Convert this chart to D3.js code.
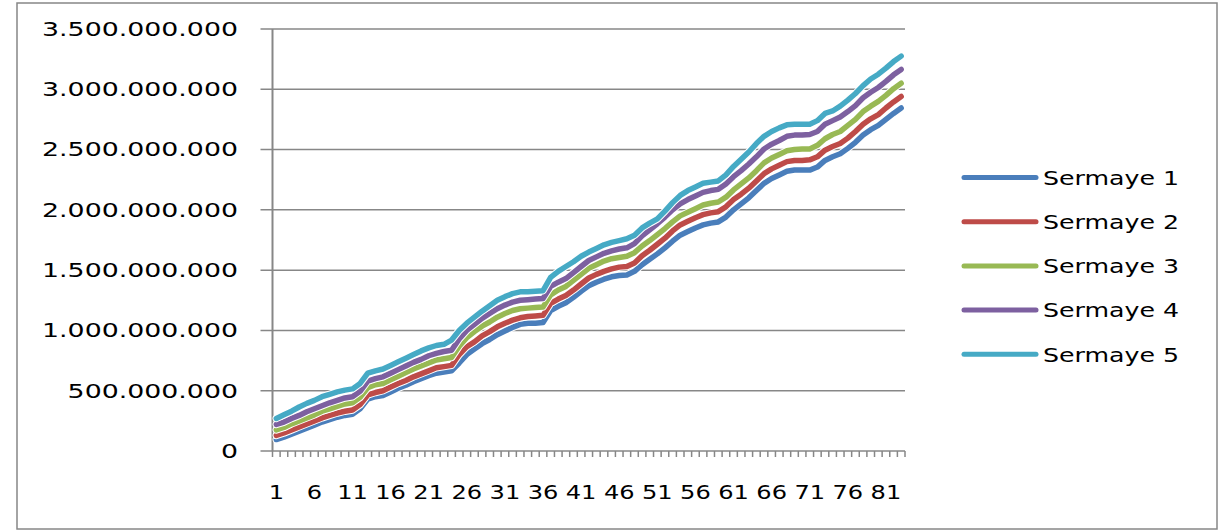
<!DOCTYPE html>
<html>
<head>
<meta charset="utf-8">
<script src="https://cdn.jsdelivr.net/npm/d3@7"></script>
<style>
  body { margin: 0; background: #fff; }
  svg text { font-family: "DejaVu Sans", Verdana, sans-serif; fill: #000; }
</style>
</head>
<body>
<svg id="chart" width="1227" height="531"></svg>
<script>
// Periods 1..83
const categories = [
  1,2,3,4,5,6,7,8,9,10,11,12,13,14,15,16,17,18,19,20,
  21,22,23,24,25,26,27,28,29,30,31,32,33,34,35,36,37,38,39,40,
  41,42,43,44,45,46,47,48,49,50,51,52,53,54,55,56,57,58,59,60,
  61,62,63,64,65,66,67,68,69,70,71,72,73,74,75,76,77,78,79,80,
  81,82,83
];

const seriesNames = ["Sermaye 1", "Sermaye 2", "Sermaye 3", "Sermaye 4", "Sermaye 5"];

// Capital values, in millions
const sermaye1 = [
  95,115,140,165,190,215,240,260,280,295,
  305,350,430,450,460,490,520,545,575,600,
  625,645,655,665,730,800,845,890,925,965,
  995,1025,1050,1060,1060,1065,1165,1200,1230,1275,
  1325,1370,1400,1425,1445,1455,1460,1490,1545,1590,
  1635,1685,1740,1790,1820,1850,1875,1890,1900,1940,
  2000,2050,2100,2160,2220,2260,2290,2320,2330,2330,
  2330,2355,2410,2440,2465,2510,2560,2620,2665,2700,
  2750,2800,2845
];
const sermaye2 = [
  130,150,175,200,225,250,275,295,315,330,
  340,385,465,485,500,530,560,585,615,640,
  665,690,700,710,800,865,905,955,990,1030,
  1060,1085,1105,1115,1120,1125,1225,1260,1290,1335,
  1385,1435,1465,1490,1510,1525,1530,1560,1620,1665,
  1715,1765,1825,1875,1905,1935,1960,1975,1985,2025,
  2085,2130,2180,2240,2300,2340,2370,2400,2410,2410,
  2415,2440,2495,2525,2550,2595,2650,2710,2755,2790,
  2845,2895,2940
];
const sermaye3 = [
  175,195,225,250,275,300,330,350,370,390,
  400,445,525,550,560,590,620,650,680,705,
  730,755,765,775,870,940,990,1035,1070,1110,
  1140,1165,1180,1185,1190,1195,1295,1335,1365,1415,
  1465,1515,1545,1575,1595,1605,1615,1645,1700,1745,
  1795,1845,1900,1950,1980,2010,2040,2055,2065,2105,
  2165,2215,2265,2325,2390,2430,2460,2490,2500,2505,
  2505,2535,2590,2625,2650,2700,2750,2815,2860,2900,
  2950,3005,3050
];
const sermaye4 = [
  220,240,270,295,325,350,375,400,420,440,
  450,495,580,600,615,645,675,705,735,760,
  790,810,825,835,930,1000,1050,1100,1140,1180,
  1210,1235,1250,1255,1260,1265,1365,1400,1430,1480,
  1530,1580,1610,1640,1660,1675,1685,1720,1785,1835,
  1885,1940,2000,2050,2085,2115,2145,2160,2170,2215,
  2275,2325,2380,2440,2505,2545,2575,2610,2620,2620,
  2625,2650,2710,2740,2770,2815,2865,2930,2975,3015,
  3065,3120,3165
];
const sermaye5 = [
  270,300,330,365,395,420,450,470,490,505,
  515,560,645,665,680,710,740,770,800,830,
  855,875,885,920,1000,1060,1110,1160,1205,1250,
  1280,1305,1320,1320,1325,1330,1440,1490,1530,1570,
  1615,1650,1680,1710,1730,1745,1760,1790,1850,1890,
  1925,1990,2060,2120,2160,2190,2220,2230,2240,2290,
  2360,2420,2480,2550,2610,2650,2680,2705,2710,2710,
  2710,2740,2800,2820,2860,2910,2965,3030,3085,3125,
  3175,3230,3275
];

const yTickValues = [0, 500, 1000, 1500, 2000, 2500, 3000, 3500];
const yTickLabels = ["0", "500.000.000", "1.000.000.000", "1.500.000.000",
                     "2.000.000.000", "2.500.000.000", "3.000.000.000", "3.500.000.000"];
const xTickLabels = ["1","6","11","16","21","26","31","36","41","46","51","56","61","66","71","76","81"];

const seriesColors = ["#4A7EBB", "#BE4B48", "#98B954", "#7D60A0", "#46AAC5"];
const series = [sermaye1, sermaye2, sermaye3, sermaye4, sermaye5];

const svg = d3.select("#chart");
const plot = { left: 272.5, right: 905, top: 29, bottom: 451 };
const axisGray = "#878787";

// Outer chart frame
svg.append("rect")
  .attr("x", 17).attr("y", 3).attr("width", 1200).attr("height", 526)
  .attr("fill", "#fff").attr("stroke", axisGray).attr("stroke-width", 1.5);

const x = d3.scaleBand().domain(categories).range([plot.left, plot.right]).padding(0);
const y = d3.scaleLinear().domain([0, 3500]).range([plot.bottom, plot.top]);
const cx = d => x(d) + x.bandwidth() / 2;

// Horizontal gridlines with outside ticks on the value axis
svg.append("g").selectAll("line").data(yTickValues).join("line")
  .attr("x1", plot.left - 12).attr("x2", plot.right)
  .attr("y1", d => y(d)).attr("y2", d => y(d))
  .attr("stroke", axisGray).attr("stroke-width", 1.5);

// Value axis labels
const textSize = 19;
svg.append("g").selectAll("text").data(yTickValues).join("text")
  .attr("transform", d => `translate(238,${y(d)}) scale(1.41,1)`)
  .attr("text-anchor", "end").attr("dy", "0.36em")
  .style("font-size", textSize + "px")
  .text((d, i) => yTickLabels[i]);

// Value axis line
svg.append("line")
  .attr("x1", plot.left).attr("x2", plot.left)
  .attr("y1", plot.top).attr("y2", plot.bottom)
  .attr("stroke", axisGray).attr("stroke-width", 2);

// Category axis tick marks at band boundaries
const boundaries = categories.map(c => x(c)).concat([plot.right]);
svg.append("g").selectAll("line").data(boundaries).join("line")
  .attr("x1", d => d).attr("x2", d => d)
  .attr("y1", plot.bottom).attr("y2", plot.bottom + 6)
  .attr("stroke", axisGray).attr("stroke-width", 1.5);

// Category labels
svg.append("g").selectAll("text").data(xTickLabels).join("text")
  .attr("transform", d => `translate(${cx(+d)},499) scale(1.27,1)`)
  .attr("text-anchor", "middle")
  .style("font-size", textSize + "px")
  .text(d => d);

// Series lines, each with a thin white edge
const line = d3.line()
  .x((d, i) => cx(categories[i]))
  .y(d => y(d));

series.forEach((vals, k) => {
  const g = svg.append("g");
  g.append("path").attr("d", line(vals))
    .attr("fill", "none").attr("stroke", "#fff").attr("stroke-width", 7.5)
    .attr("stroke-linejoin", "round").attr("stroke-linecap", "round");
  g.append("path").attr("d", line(vals))
    .attr("fill", "none").attr("stroke", seriesColors[k]).attr("stroke-width", 5.5)
    .attr("stroke-linejoin", "round").attr("stroke-linecap", "round");
});

// Legend
const legend = svg.append("g").selectAll("g").data(seriesNames).join("g")
  .attr("transform", (d, i) => `translate(0,${177.5 + i * 44.2})`);
legend.append("line")
  .attr("x1", 964).attr("x2", 1036).attr("y1", 0).attr("y2", 0)
  .attr("stroke", (d, i) => seriesColors[i]).attr("stroke-width", 5)
  .attr("stroke-linecap", "round");
legend.append("text")
  .attr("transform", "translate(1043,0) scale(1.33,1)")
  .attr("dy", "0.38em")
  .style("font-size", textSize + "px")
  .text(d => d);
</script>
</body>
</html>
